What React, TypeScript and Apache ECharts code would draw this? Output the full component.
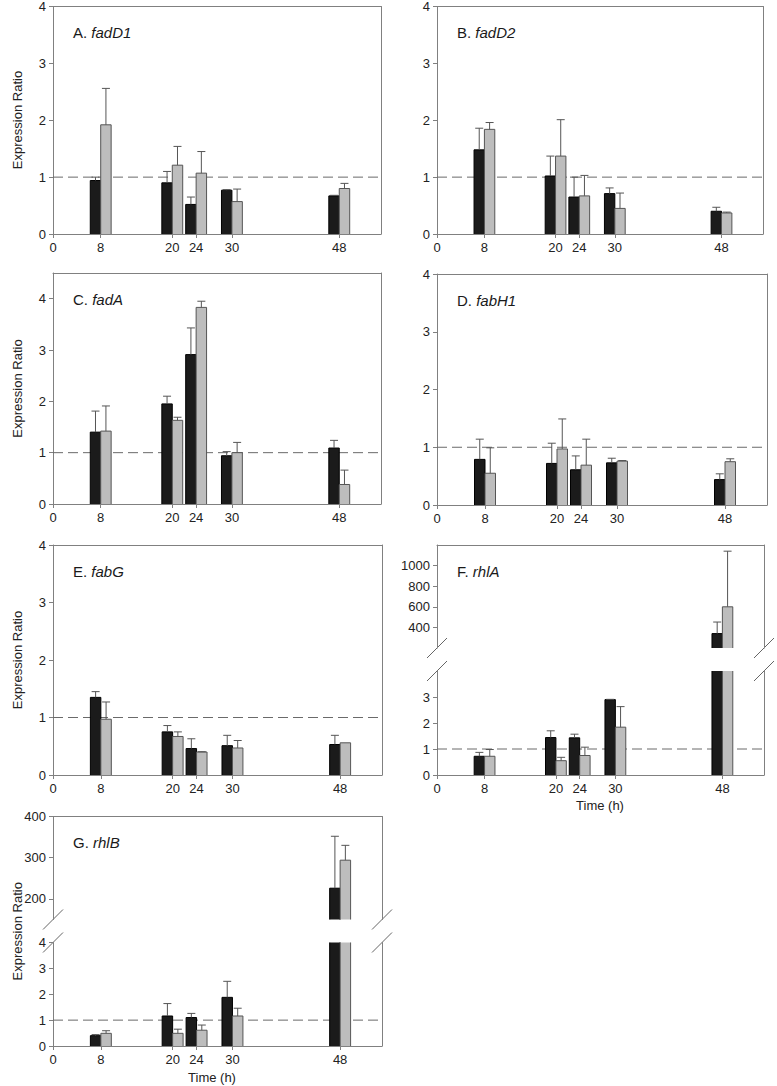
import React, { useEffect, useRef } from "react";
import * as echarts from "echarts";

// ---------------- data ----------------
const times = [8, 20, 24, 30, 48];
const xTickValues = [0, 8, 20, 24, 30, 48];
const yTicksBasic = [0, 1, 2, 3, 4];
const yTicksFLower = [0, 1, 2, 3];
const yTicksFUpper = [400, 600, 800, 1000];
const yTicksGLower = [0, 1, 2, 3, 4];
const yTicksGUpper = [200, 300, 400];

const fadD1Black = [0.94, 0.9, 0.52, 0.77, 0.67];
const fadD1BlackErr = [0.06, 0.2, 0.13, 0.01, 0.01];
const fadD1Gray = [1.92, 1.21, 1.07, 0.57, 0.8];
const fadD1GrayErr = [0.64, 0.33, 0.38, 0.22, 0.09];

const fadD2Black = [1.48, 1.02, 0.65, 0.71, 0.4];
const fadD2BlackErr = [0.38, 0.35, 0.35, 0.1, 0.07];
const fadD2Gray = [1.84, 1.37, 0.67, 0.45, 0.37];
const fadD2GrayErr = [0.12, 0.64, 0.36, 0.27, 0.015];

const fadABlack = [1.4, 1.95, 2.91, 0.94, 1.09];
const fadABlackErr = [0.41, 0.15, 0.52, 0.08, 0.15];
const fadAGray = [1.42, 1.63, 3.83, 1.0, 0.38];
const fadAGrayErr = [0.49, 0.06, 0.12, 0.2, 0.28];

const fabH1Black = [0.79, 0.72, 0.61, 0.73, 0.44];
const fabH1BlackErr = [0.35, 0.35, 0.24, 0.08, 0.1];
const fabH1Gray = [0.55, 0.97, 0.69, 0.76, 0.75];
const fabH1GrayErr = [0.44, 0.52, 0.45, 0.01, 0.05];

const fabGBlack = [1.35, 0.75, 0.46, 0.51, 0.53];
const fabGBlackErr = [0.1, 0.11, 0.17, 0.18, 0.16];
const fabGGray = [0.97, 0.67, 0.4, 0.47, 0.56];
const fabGGrayErr = [0.3, 0.08, 0.005, 0.13, 0];

const rhlABlack = [0.72, 1.44, 1.43, 2.9, 340];
const rhlABlackErr = [0.15, 0.26, 0.14, 0.01, 112];
const rhlAGray = [0.72, 0.55, 0.75, 1.84, 600];
const rhlAGrayErr = [0.26, 0.13, 0.32, 0.79, 540];

const rhlBBlack = [0.4, 1.16, 1.1, 1.88, 226];
const rhlBBlackErr = [0.04, 0.48, 0.16, 0.62, 126];
const rhlBGray = [0.49, 0.49, 0.61, 1.16, 294];
const rhlBGrayErr = [0.1, 0.16, 0.2, 0.3, 36];

// ---------------- styling / layout ----------------
const FONT = '"Liberation Sans", Arial, Helvetica, sans-serif';
const TICK_FONT = 13;
const X_MAX = 55;
const BAR_W = 1.75;
const CAP = 4;
const FRAME = "#808080";
const ERR = "#555555";
const BLACK_FILL = "#1b1b1b";
const BLACK_STROKE = "#000000";
const GRAY_FILL = "#bdbdbd";
const GRAY_STROKE = "#555555";

interface Seg {
  top: number;
  height: number;
  min: number;
  max: number;
  ticks: number[];
  showX: boolean;
  frameTop: boolean;
  frameBottom: boolean;
}
interface Panel {
  letter: string;
  gene: string;
  black: number[];
  blackErr: number[];
  gray: number[];
  grayErr: number[];
  left: number;
  width: number;
  segs: Seg[];
  yName: boolean;
  xName?: { x: number; y: number };
}

const single = (top: number, height: number, max: number): Seg[] => [
  { top, height, min: 0, max, ticks: yTicksBasic, showX: true, frameTop: true, frameBottom: true },
];

const panels: Panel[] = [
  { letter: "A.", gene: "fadD1", black: fadD1Black, blackErr: fadD1BlackErr, gray: fadD1Gray, grayErr: fadD1GrayErr, left: 53, width: 328, segs: single(6, 228, 4), yName: true },
  { letter: "B.", gene: "fadD2", black: fadD2Black, blackErr: fadD2BlackErr, gray: fadD2Gray, grayErr: fadD2GrayErr, left: 437, width: 326, segs: single(6, 228, 4), yName: false },
  { letter: "C.", gene: "fadA", black: fadABlack, blackErr: fadABlackErr, gray: fadAGray, grayErr: fadAGrayErr, left: 53, width: 328, segs: single(273, 231, 4.5), yName: true },
  { letter: "D.", gene: "fabH1", black: fabH1Black, blackErr: fabH1BlackErr, gray: fabH1Gray, grayErr: fabH1GrayErr, left: 437, width: 330, segs: single(274, 231, 4), yName: false },
  { letter: "E.", gene: "fabG", black: fabGBlack, blackErr: fabGBlackErr, gray: fabGGray, grayErr: fabGGrayErr, left: 53, width: 329, segs: single(545, 230, 4), yName: true },
  {
    letter: "F.", gene: "rhlA", black: rhlABlack, blackErr: rhlABlackErr, gray: rhlAGray, grayErr: rhlAGrayErr, left: 437, width: 327,
    segs: [
      { top: 545, height: 103, min: 200, max: 1200, ticks: yTicksFUpper, showX: false, frameTop: true, frameBottom: false },
      { top: 671, height: 104, min: 0, max: 4, ticks: yTicksFLower, showX: true, frameTop: false, frameBottom: true },
    ],
    yName: false, xName: { x: 600, y: 805 },
  },
  {
    letter: "G.", gene: "rhlB", black: rhlBBlack, blackErr: rhlBBlackErr, gray: rhlBGray, grayErr: rhlBGrayErr, left: 53, width: 329,
    segs: [
      { top: 816.5, height: 103, min: 150, max: 400, ticks: yTicksGUpper, showX: false, frameTop: true, frameBottom: false },
      { top: 942.5, height: 103.5, min: 0, max: 4, ticks: yTicksGLower, showX: true, frameTop: false, frameBottom: true },
    ],
    yName: true, xName: { x: 212, y: 1077 },
  },
];

function makeRender(side: number, fill: string, stroke: string) {
  return (params: any, api: any) => {
    const t = api.value(0);
    const v = api.value(1);
    const e = api.value(2);
    const cs = params.coordSys;
    const top = cs.y;
    const bottom = cs.y + cs.height;
    const xa = api.coord([t + side * BAR_W, 0])[0];
    const xb = api.coord([t, 0])[0];
    const x0 = Math.min(xa, xb);
    const x1 = Math.max(xa, xb);
    const yv = api.coord([t, v])[1];
    const y0 = api.coord([t, 0])[1];
    const children: any[] = [];
    const clippedTop = yv < top;
    const ry0 = Math.max(yv, top);
    const ry1 = Math.min(y0, bottom);
    if (ry1 > ry0) {
      children.push({
        type: "rect",
        shape: { x: x0, y: ry0, width: x1 - x0, height: ry1 - ry0 },
        style: { fill, stroke: null },
      });
      // visible outline: sides, plus the top edge only where the bar really ends
      children.push({ type: "line", shape: { x1: x0, y1: ry0, x2: x0, y2: ry1 }, style: { stroke, lineWidth: 1 } });
      children.push({ type: "line", shape: { x1: x1, y1: ry0, x2: x1, y2: ry1 }, style: { stroke, lineWidth: 1 } });
      if (!clippedTop) {
        children.push({ type: "line", shape: { x1: x0, y1: ry0, x2: x1, y2: ry0 }, style: { stroke, lineWidth: 1 } });
      }
    }
    if (e > 0.003 && !clippedTop && yv <= bottom) {
      const ye = Math.max(api.coord([t, v + e])[1], top);
      const cx = (x0 + x1) / 2;
      children.push({ type: "line", shape: { x1: cx, y1: yv, x2: cx, y2: ye }, style: { stroke: ERR, lineWidth: 1 } });
      children.push({ type: "line", shape: { x1: cx - CAP, y1: ye, x2: cx + CAP, y2: ye }, style: { stroke: ERR, lineWidth: 1 } });
    }
    return { type: "group", children };
  };
}

function buildOption() {
  const grid: any[] = [];
  const xAxis: any[] = [];
  const yAxis: any[] = [];
  const series: any[] = [];
  const graphic: any[] = [];
  const lineStyle = { color: FRAME, width: 1 };
  const labelStyle = { color: "#222", fontSize: TICK_FONT, fontFamily: FONT };

  panels.forEach((p) => {
    p.segs.forEach((s) => {
      const gi = grid.length;
      grid.push({ left: p.left, top: s.top, width: p.width, height: s.height, show: false });
      const xi = xAxis.length;
      xAxis.push({
        type: "value", gridIndex: gi, min: 0, max: X_MAX, position: "bottom",
        axisLine: { show: s.frameBottom, onZero: false, lineStyle },
        axisTick: { show: s.showX, customValues: xTickValues, length: 4, lineStyle },
        axisLabel: { show: s.showX, customValues: xTickValues, margin: 7, formatter: (v: number) => String(v), ...labelStyle },
        splitLine: { show: false },
      });
      xAxis.push({
        type: "value", gridIndex: gi, min: 0, max: X_MAX, position: "top",
        axisLine: { show: s.frameTop, onZero: false, lineStyle },
        axisTick: { show: false }, axisLabel: { show: false }, splitLine: { show: false },
      });
      const yi = yAxis.length;
      yAxis.push({
        type: "value", gridIndex: gi, min: s.min, max: s.max, position: "left",
        axisLine: { show: true, onZero: false, lineStyle },
        axisTick: { show: true, customValues: s.ticks, length: 4, lineStyle },
        axisLabel: { customValues: s.ticks, margin: 7, formatter: (v: number) => String(v), ...labelStyle },
        splitLine: { show: false },
      });
      yAxis.push({
        type: "value", gridIndex: gi, min: s.min, max: s.max, position: "right",
        axisLine: { show: true, onZero: false, lineStyle },
        axisTick: { show: false }, axisLabel: { show: false }, splitLine: { show: false },
      });
      if (s.min <= 1 && s.max >= 1) {
        series.push({
          type: "line", xAxisIndex: xi, yAxisIndex: yi, z: 1, silent: true, symbol: "none",
          data: [[0, 1], [X_MAX, 1]],
          lineStyle: { color: "#6a6a6a", width: 1, type: [10, 5] },
        });
      }
      series.push({
        type: "custom", xAxisIndex: xi, yAxisIndex: yi, z: 3, silent: true,
        renderItem: makeRender(-1, BLACK_FILL, BLACK_STROKE),
        data: times.map((t, i) => [t, p.black[i], p.blackErr[i]]),
      });
      series.push({
        type: "custom", xAxisIndex: xi, yAxisIndex: yi, z: 3, silent: true,
        renderItem: makeRender(1, GRAY_FILL, GRAY_STROKE),
        data: times.map((t, i) => [t, p.gray[i], p.grayErr[i]]),
      });
    });

    const first = p.segs[0];
    const last = p.segs[p.segs.length - 1];
    graphic.push({
      type: "text", x: p.left + 20, y: first.top + 26, silent: true,
      style: {
        text: `${p.letter} {i|${p.gene}}`,
        fontSize: 15, fontFamily: FONT, fill: "#1a1a1a", verticalAlign: "middle", align: "left",
        rich: { i: { fontStyle: "italic", fontSize: 15, fontFamily: FONT, fill: "#1a1a1a" } },
      },
    });
    if (p.yName) {
      graphic.push({
        type: "text", x: 17, y: (first.top + last.top + last.height) / 2, rotation: Math.PI / 2, silent: true,
        style: { text: "Expression Ratio", fontSize: 13, fontFamily: FONT, fill: "#222", align: "center", verticalAlign: "middle" },
      });
    }
    if (p.xName) {
      graphic.push({
        type: "text", x: p.xName.x, y: p.xName.y, silent: true,
        style: { text: "Time (h)", fontSize: 13, fontFamily: FONT, fill: "#222", align: "center", verticalAlign: "middle" },
      });
    }
    if (p.segs.length === 2) {
      const ys = [first.top + first.height, last.top];
      const xs = [p.left, p.left + p.width];
      xs.forEach((x) => {
        ys.forEach((y) => {
          graphic.push({
            type: "line", silent: true,
            shape: { x1: x - 10, y1: y + 10, x2: x + 10, y2: y - 10 },
            style: { stroke: "#666", lineWidth: 1 },
          });
        });
      });
    }
  });

  return { animation: false, backgroundColor: "#ffffff", grid, xAxis, yAxis, series, graphic };
}

export default function App() {
  const ref = useRef<HTMLDivElement>(null);
  useEffect(() => {
    if (!ref.current) return;
    const chart = echarts.init(ref.current, null, { renderer: "svg" });
    chart.setOption(buildOption() as any);
    return () => chart.dispose();
  }, []);
  return (
    <div
      ref={ref}
      style={{ position: "absolute", left: 0, top: 0, width: 777, height: 1086, background: "#fff" }}
    />
  );
}
